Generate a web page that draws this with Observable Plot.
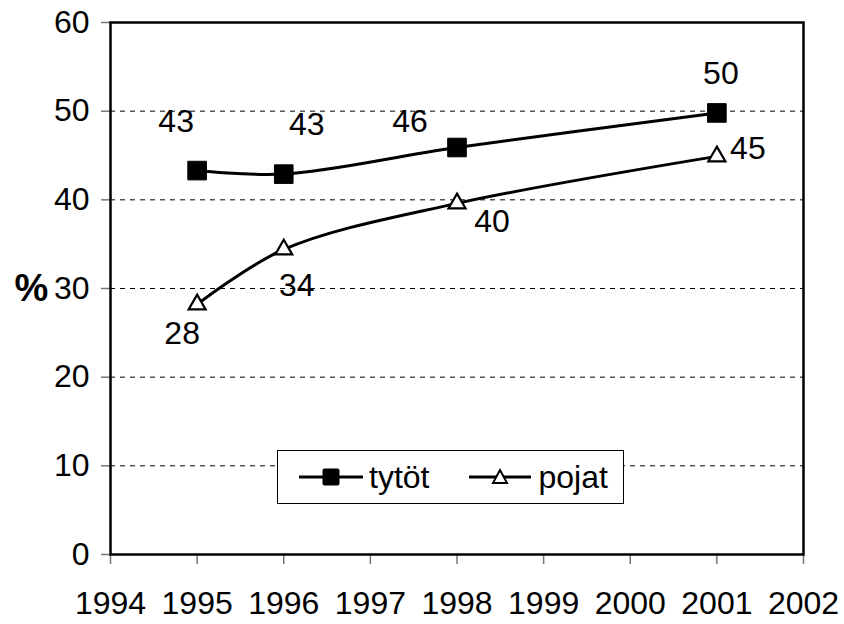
<!DOCTYPE html>
<html>
<head>
<meta charset="utf-8">
<script src="https://cdn.jsdelivr.net/npm/d3@7"></script>
<script src="https://cdn.jsdelivr.net/npm/@observablehq/plot@0.6"></script>
<style>
  body { margin: 0; background: #fff; }
  #wrap { position: relative; width: 844px; height: 624px; font-family: "Liberation Sans", Arial, sans-serif; }
  #legend { position: absolute; left: 277px; top: 450px; width: 345px; height: 52px; border: 1.5px solid #000; background: #fff;
    display: flex; align-items: center; font-size: 32px; color: #000; }
  #legend .item { display: flex; align-items: center; }
  #legend svg { display: block; }
</style>
</head>
<body>
<div id="wrap"></div>
<script>
// ---- data ----
const years = [1995, 1996, 1998, 2001];
const tytot = [43.3, 42.9, 45.9, 49.8];
const pojat = [28.2, 34.4, 39.6, 44.9];
const tytotLabels = ["43", "43", "46", "50"];
const pojatLabels = ["28", "34", "40", "45"];
const seriesNames = ["tytöt", "pojat"];
const xTicks = [1994, 1995, 1996, 1997, 1998, 1999, 2000, 2001, 2002];
const yTicks = [0, 10, 20, 30, 40, 50, 60];
const gridTicks = [10, 20, 30, 40, 50];

// ---- layout of value labels (pixel offsets) ----
const tytotOffsets = [[-21, -49], [23, -49], [-47, -26], [4, -39]];
const pojatOffsets = [[-15, 29], [13, 36], [35, 18], [31, -8]];

const rowsT = years.map((y, i) => ({year: y, value: tytot[i], label: tytotLabels[i]}));
const rowsP = years.map((y, i) => ({year: y, value: pojat[i], label: pojatLabels[i]}));

const FS = 32;
const labelMarks = [];
rowsT.forEach((d, i) => labelMarks.push(Plot.text([d], {x: "year", y: "value", text: "label",
  dx: tytotOffsets[i][0], dy: tytotOffsets[i][1], fontSize: FS, fill: "#000"})));
rowsP.forEach((d, i) => labelMarks.push(Plot.text([d], {x: "year", y: "value", text: "label",
  dx: pojatOffsets[i][0], dy: pojatOffsets[i][1], fontSize: FS, fill: "#000"})));

const chart = Plot.plot({
  width: 844,
  height: 624,
  marginLeft: 110,
  marginRight: 41,
  marginTop: 22,
  marginBottom: 70,
  style: {fontFamily: "'Liberation Sans', Arial, sans-serif", fontSize: FS + "px", color: "#000", background: "#fff"},
  x: {domain: [1994, 2002]},
  y: {domain: [0, 60]},
  marks: [
    Plot.ruleY(gridTicks, {stroke: "#000", strokeWidth: 1, strokeDasharray: "5,5"}),
    Plot.axisY({ticks: yTicks, tickSize: 9, tickPadding: 12, fontSize: FS, label: null, stroke: "#777", strokeWidth: 1.5}),
    Plot.axisX({ticks: xTicks, tickFormat: "d", tickSize: 10, tickPadding: 27, fontSize: FS, label: null, stroke: "#777", strokeWidth: 1.5}),
    Plot.frame({stroke: "#000", strokeWidth: 2.5}),
    Plot.line(rowsT, {x: "year", y: "value", curve: "catmull-rom", stroke: "#000", strokeWidth: 3}),
    Plot.line(rowsP, {x: "year", y: "value", curve: "catmull-rom", stroke: "#000", strokeWidth: 3}),
    Plot.dot(rowsT, {x: "year", y: "value", symbol: "square", r: 10.5, fill: "#000", stroke: "#000", strokeWidth: 1, strokeLinejoin: "round"}),
    Plot.dot(rowsP, {x: "year", y: "value", symbol: "triangle", r: 6.3, fill: "#fff", stroke: "#000", strokeWidth: 2.2}),
    ...labelMarks,
    Plot.text(["%"], {frameAnchor: "left", textAnchor: "middle", dx: -79, fontSize: 38, fontWeight: "bold", fill: "#000"})
  ]
});

const wrap = document.getElementById("wrap");
wrap.appendChild(chart);

// legend
const legend = document.createElement("div");
legend.id = "legend";
legend.innerHTML = `
  <div class="item" style="margin-left:21px">
    <svg width="64" height="30"><line x1="0" y1="15" x2="64" y2="15" stroke="#000" stroke-width="3"/>
      <rect x="23.5" y="6.5" width="17" height="17" rx="2" fill="#000"/></svg>
    <span style="margin-left:6px">${seriesNames[0]}</span>
  </div>
  <div class="item" style="margin-left:40px">
    <svg width="62" height="30"><line x1="0" y1="15" x2="62" y2="15" stroke="#000" stroke-width="3"/>
      <path d="M31,8 L38,21 L24,21 Z" fill="#fff" stroke="#000" stroke-width="2"/></svg>
    <span style="margin-left:7px">${seriesNames[1]}</span>
  </div>`;
wrap.appendChild(legend);
</script>
</body>
</html>
